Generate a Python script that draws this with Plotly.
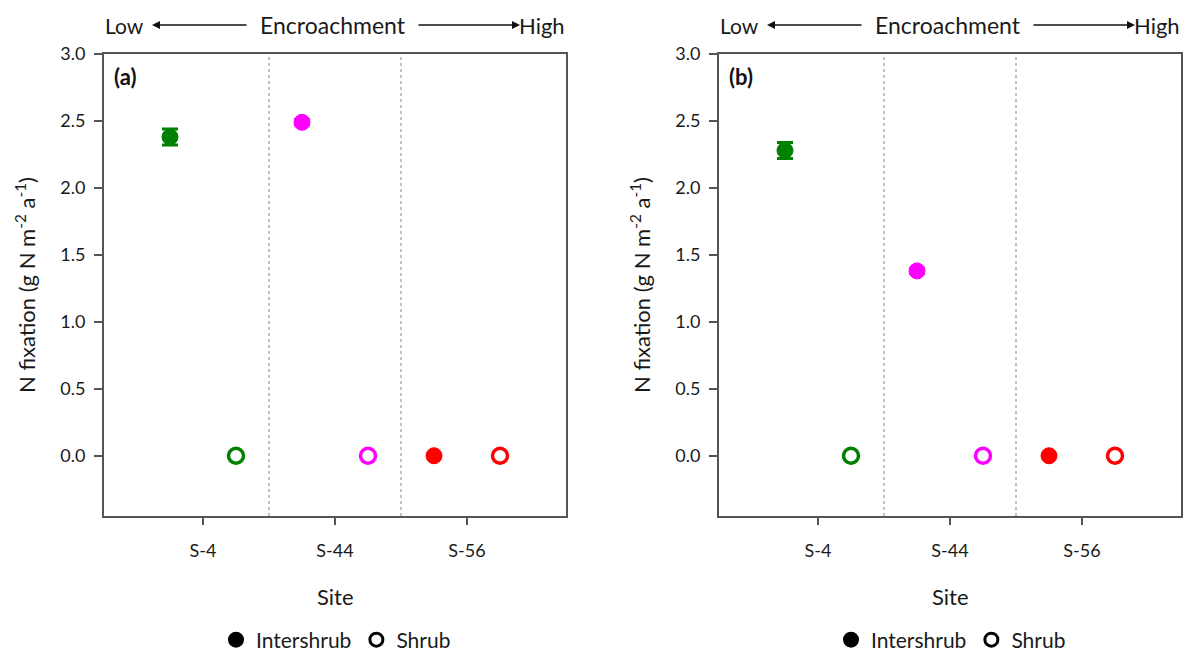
import plotly.graph_objects as go

# ---- data ----
sites = ["S-4", "S-44", "S-56"]
site_colors = ["#008000", "#FF00FF", "#FF0000"]

a_inter = [2.38, 2.49, 0.0]
a_inter_err = [0.06, 0.02, 0.0]
a_shrub = [0.0, 0.0, 0.0]
a_shrub_err = [0.0, 0.0, 0.0]

b_inter = [2.28, 1.38, 0.0]
b_inter_err = [0.06, 0.02, 0.0]
b_shrub = [0.0, 0.0, 0.0]
b_shrub_err = [0.0, 0.0, 0.0]

panel_labels = ["(a)", "(b)"]
y_ticks = [0.0, 0.5, 1.0, 1.5, 2.0, 2.5, 3.0]

FONT = "Lato"
W, H = 1184, 652
dom_x = [[104 / W, 566 / W], [719 / W, 1181 / W]]
dom_y = [1 - 516 / H, 1 - 54 / H]
AX = "#555555"
TXT = "#1a1a1a"

fig = go.Figure()
panels = [
    (a_inter, a_inter_err, a_shrub, a_shrub_err),
    (b_inter, b_inter_err, b_shrub, b_shrub_err),
]
for p, (inter, inter_err, shrub, shrub_err) in enumerate(panels):
    xa = "x" if p == 0 else "x2"
    ya = "y" if p == 0 else "y2"
    for i, s in enumerate(sites):
        col = site_colors[i]
        fig.add_trace(go.Scatter(
            x=[i + 1 - 0.25], y=[inter[i]], xaxis=xa, yaxis=ya, mode="markers",
            marker=dict(symbol="circle", size=16, color=col, line=dict(color=col, width=1)),
            error_y=dict(type="data", array=[inter_err[i]], color=col, thickness=3, width=8,
                         visible=inter_err[i] > 0),
            showlegend=False, cliponaxis=False))
        fig.add_trace(go.Scatter(
            x=[i + 1 + 0.25], y=[shrub[i]], xaxis=xa, yaxis=ya, mode="markers",
            marker=dict(symbol="circle-open", size=15, color=col, line=dict(color=col, width=3.5)),
            showlegend=False, cliponaxis=False))
    # legend entries
    leg = "legend" if p == 0 else "legend2"
    fig.add_trace(go.Scatter(x=[None], y=[None], xaxis=xa, yaxis=ya, mode="markers",
                             name="Intershrub", legend=leg,
                             marker=dict(symbol="circle", size=16, color="black")))
    fig.add_trace(go.Scatter(x=[None], y=[None], xaxis=xa, yaxis=ya, mode="markers",
                             name="Shrub", legend=leg,
                             marker=dict(symbol="circle-open", size=13, color="black",
                                         line=dict(color="black", width=3))))

common_x = dict(range=[0.25, 3.75], tickvals=[1, 2, 3], ticktext=sites, showgrid=False,
                zeroline=False, showline=True, linecolor=AX, linewidth=2, mirror=True,
                ticks="outside", ticklen=7, tickwidth=2, tickcolor=AX, ticklabelstandoff=10,
                tickfont=dict(family=FONT, size=18, color=TXT))
common_y = dict(range=[-0.45, 3.0], tickvals=y_ticks, tickformat=".1f", showgrid=False,
                zeroline=False, showline=True, linecolor=AX, linewidth=2, mirror=True,
                ticks="outside", ticklen=8, tickwidth=2, tickcolor=AX, ticklabelstandoff=5,
                tickfont=dict(family=FONT, size=18, color=TXT), domain=dom_y)

leg_common = dict(orientation="h", xref="container", yref="container",
                  y=1 - 640 / H, yanchor="middle", xanchor="center",
                  font=dict(family=FONT, size=21, color=TXT), itemwidth=30,
                  bgcolor="rgba(0,0,0,0)", tracegroupgap=0)

fig.update_layout(
    width=W, height=H, margin=dict(l=0, r=0, t=0, b=0, autoexpand=False),
    paper_bgcolor="white", plot_bgcolor="white",
    font=dict(family=FONT, color=TXT),
    xaxis=dict(common_x, domain=dom_x[0], anchor="y"),
    yaxis=dict(common_y, anchor="x"),
    xaxis2=dict(common_x, domain=dom_x[1], anchor="y2"),
    yaxis2=dict(common_y, anchor="x2"),
    legend=dict(leg_common, x=336 / W),
    legend2=dict(leg_common, x=951 / W),
)

shapes = []
anns = []
for p in range(2):
    xr = "x" if p == 0 else "x2"
    yr = "y domain" if p == 0 else "y2 domain"
    for d in [1.5, 2.5]:
        shapes.append(dict(type="line", xref=xr, yref=yr, x0=d, x1=d, y0=0, y1=1,
                           line=dict(color="#888888", width=1, dash="dot")))
    left = dom_x[p][0] * W
    right = dom_x[p][1] * W
    center = (left + right) / 2
    ty = 1 - 25 / H
    anns.append(dict(text="Low", xref="paper", yref="paper", x=(left - 1) / W, y=ty,
                     xanchor="left", yanchor="middle", showarrow=False,
                     font=dict(family=FONT, size=21, color=TXT)))
    anns.append(dict(text="High", xref="paper", yref="paper", x=(right + 1) / W, y=ty,
                     xanchor="right", yanchor="middle", showarrow=False,
                     font=dict(family=FONT, size=22, color=TXT)))
    anns.append(dict(text="Encroachment", xref="paper", yref="paper", x=(center - 2) / W, y=ty,
                     xanchor="center", yanchor="middle", showarrow=False,
                     font=dict(family=FONT, size=23, color=TXT)))
    # arrows
    anns.append(dict(text="", xref="paper", yref="paper", x=(left + 48) / W, y=ty,
                     ax=96, ay=0, showarrow=True, arrowhead=2, arrowsize=1, arrowwidth=1.6,
                     arrowcolor="#111"))
    anns.append(dict(text="", xref="paper", yref="paper", x=(right - 46) / W, y=ty,
                     ax=-103, ay=0, showarrow=True, arrowhead=2, arrowsize=1, arrowwidth=1.6,
                     arrowcolor="#111"))
    anns.append(dict(text="<b>" + panel_labels[p] + "</b>", xref="paper", yref="paper",
                     x=(left + 8) / W, y=1 - 76 / H, xanchor="left", yanchor="middle",
                     showarrow=False, font=dict(family=FONT, size=22, color="#111")))
    anns.append(dict(text="Site", xref="paper", yref="paper", x=center / W, y=1 - 596 / H,
                     xanchor="center", yanchor="middle", showarrow=False,
                     font=dict(family=FONT, size=22, color=TXT)))
    anns.append(dict(text="N fixation (g N m<sup>-2</sup> a<sup>-1</sup>)", xref="paper",
                     yref="paper", x=(left - 79) / W, y=(dom_y[0] + dom_y[1]) / 2,
                     xanchor="center", yanchor="middle", textangle=-90, showarrow=False,
                     font=dict(family=FONT, size=22, color=TXT)))

fig.update_layout(shapes=shapes, annotations=anns)
fig.write_html("out.html")
